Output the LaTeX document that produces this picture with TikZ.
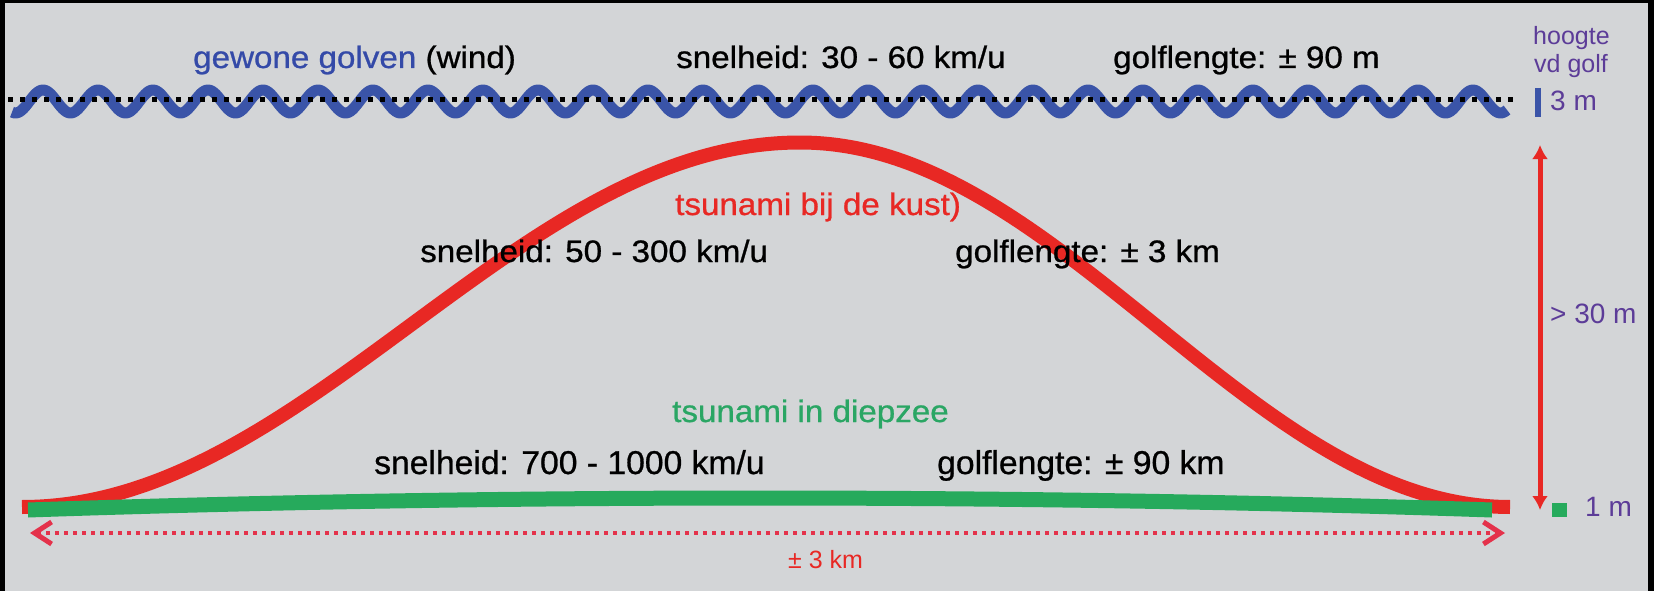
\documentclass[tikz,border=0pt]{standalone}
\usepackage{fontspec}
\usepackage{graphicx}
\setmainfont{Liberation Sans}
\newfontfamily\lblfont[FakeBold=0.8]{Liberation Sans}
\usetikzlibrary{arrows.meta}
\definecolor{bg}{RGB}{211,213,215}
\definecolor{wblue}{RGB}{58,84,168}
\definecolor{tblue}{RGB}{52,74,168}
\definecolor{purp}{RGB}{92,60,152}
\definecolor{tred}{RGB}{232,40,36}
\definecolor{dred}{RGB}{228,50,75}
\definecolor{tgreen}{RGB}{38,170,92}
\definecolor{lgreen}{RGB}{42,166,100}
\newcommand\hstr[1]{\scalebox{1.07}[1]{#1}}
\newcommand\hstrb[1]{\scalebox{1.02}[1]{#1}}
\begin{document}
\begin{tikzpicture}[x=1pt,y=-1pt,
  lbl/.style={inner sep=0pt, anchor=base west, font=\lblfont\fontsize{31}{36}\selectfont},
  lblbig/.style={inner sep=0pt, anchor=base west, font=\lblfont\fontsize{33}{38}\selectfont},
  side/.style={inner sep=0pt, anchor=base west, text=purp, font=\fontsize{28}{32}\selectfont},
  small/.style={inner sep=0pt, anchor=base west, text=purp, font=\fontsize{25}{28}\selectfont},
  wavestyle/.style={wblue, line width=11pt, line join=round},
  dotblack/.style={black, line width=5pt, dash pattern=on 5pt off 7pt},
  coast/.style={tred, line width=14pt},
  deep/.style={tgreen, line width=15pt},
  dimdot/.style={dred, line width=4pt, dash pattern=on 4pt off 5pt,
    {Straight Barb[length=17pt,width=22pt,line width=5pt]}-{Straight Barb[length=17pt,width=22pt,line width=5pt]}},
  dimvert/.style={tred, line width=5pt, {Latex[length=14pt,width=16pt]}-{Latex[length=14pt,width=16pt]}}
]
\fill[bg] (0,0) rectangle (1654,591);
\useasboundingbox (0,0) rectangle (1654,591);

% frame
\fill[black] (0,0) rectangle (5,591);
\fill[black] (1648,0) rectangle (1654,591);
\fill[black] (0,0) rectangle (1654,3);

% ordinary waves
\draw[wavestyle] plot[domain=12:1507, samples=800] (\x, {101.5-11.5*cos((\x-43)*6.545455)});
\coordinate (wl) at (8,100);
\coordinate (wr) at (1513,100);
\draw[dotblack] (wl) -- (wr);

% tsunami near coast
\draw[coast] plot[domain=22:1510, samples=400] (\x, {507-182.25*(1+cos((\x-800)*(\x<800?0.231362:0.253521)))});

% tsunami deep sea
\coordinate (gl) at (28,510);
\coordinate (gr) at (1492,510);
\draw[deep] (gl) .. controls (500,494) and (1020,494) .. (gr);

% width dimension
\coordinate (dl) at (30,533);
\coordinate (dr) at (1505,533);
\draw[dimdot] (dl) -- (dr);
\node[inner sep=0pt, anchor=base west, text=tred, font=\fontsize{25}{28}\selectfont] (w3) at (788,568) {± 3 km};

% height dimension
\coordinate (vt) at (1540,145);
\coordinate (vb) at (1540,510);
\draw[dimvert] (vt) -- (vb);
\node[side] (h30) at (1550,323) {> 30 m};

% height markers
\coordinate (bt) at (1538,88);
\coordinate (bb) at (1538,117);
\draw[wblue, line width=6pt] (bt) -- (bb);
\node[side] (h3) at (1550,111) {3 m};
\node[small] (hg1) at (1533,45) {hoogte};
\node[small] (hg2) at (1534,73) {vd golf};
\fill[tgreen] (1552,503) rectangle (1567,517);
\node[side] (h1) at (1585,516) {1 m};

% labels
\node[lbl] (t1) at (193,68) {\hstr{\textcolor{tblue}{gewone golven} (wind)}};
\node[lbl] (s1) at (676,68) {\hstr{snelheid: 30 - 60 km/u}};
\node[lbl] (g1) at (1113,68) {\hstr{golflengte: ± 90 m}};

\node[lbl, text=tred] (t2) at (675,215) {\hstr{tsunami bij de kust)}};
\node[lbl] (s2) at (420,262) {\hstr{snelheid: 50 - 300 km/u}};
\node[lbl] (g2) at (955,262) {\hstr{golflengte: ± 3 km}};

\node[lbl, text=lgreen] (t3) at (672,422) {\hstr{tsunami in diepzee}};
\node[lblbig] (s3) at (374,474) {\hstrb{snelheid: 700 - 1000 km/u}};
\node[lblbig] (g3) at (937,474) {\hstrb{golflengte: ± 90 km}};
\end{tikzpicture}
\end{document}
